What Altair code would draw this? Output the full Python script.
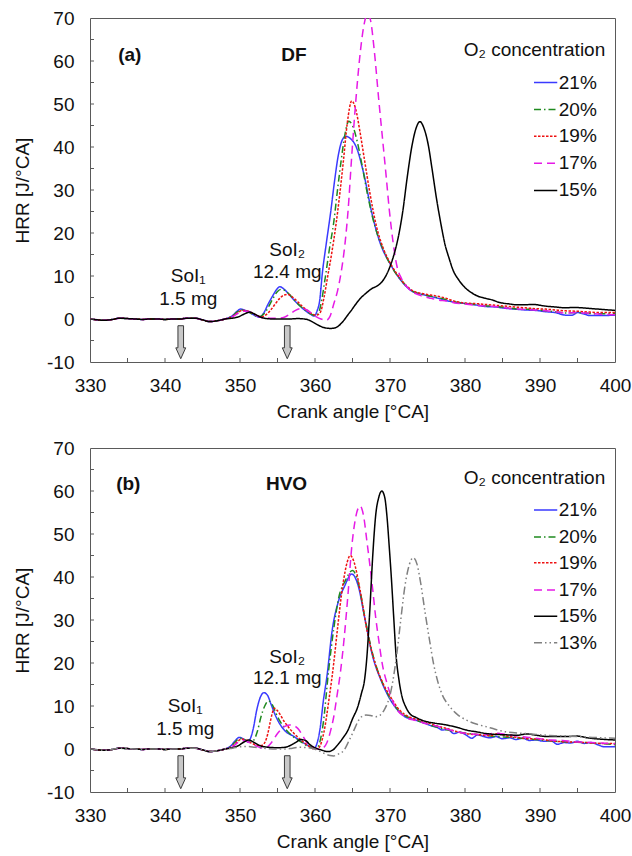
import altair as alt
import pandas as pd

# ---------------- data ----------------
SERIES = ["21%", "20%", "19%", "17%", "15%", "13%"]
COLORS = ["#3a3aff", "#1f8a1f", "#ee1111", "#e61ae6", "#000000", "#808080"]
DASHES = [[1, 0], [7, 3, 1.5, 3], [2.5, 1.5], [8, 5], [1, 0], [8, 3, 1.5, 3, 1.5, 3]]

# motored / pre-ignition baseline (common start of every trace)
BASE_X = [330, 331, 332, 333, 334, 335, 336, 337, 338, 339, 340, 341, 342, 343, 344, 345, 346, 347]
BASE_Y = [0.0, -0.2, -0.3, -0.1, 0.2, 0.1, 0.0, -0.1, 0.0, 0.0, -0.1, 0.0, 0.0, 0.2, 0.2, -0.2, -0.6, -0.4]

# ---- panel (a) DF ----
A21_X = [348, 349, 349.6, 350.1, 350.7, 351.4, 352.0, 352.6, 353.2, 353.7, 354.3, 354.9, 355.3, 355.9, 356.5, 357.2, 357.9, 358.6, 359.3, 359.9, 360.3, 360.6, 361.0, 361.5, 362.1, 362.6, 363.1, 363.6, 364.1, 364.7, 365.5, 366.5, 367.6, 368.7, 370.0, 371.4, 373.0, 374.6, 376, 377.3, 378.5, 380, 381.3, 382.7, 384, 385.3, 386.6, 388, 389.4, 390.7, 392, 393.4, 394.3, 395, 396, 396.6, 398, 400]
A21_Y = [0, 0.8, 1.8, 2.3, 2.0, 1.4, 0.8, 0.4, 1.5, 3.3, 5.2, 6.9, 7.5, 6.9, 5.8, 4.4, 3.2, 2.1, 1.2, 0.7, 2.0, 4.0, 11.0, 17.5, 25.0, 32.0, 38.0, 41.5, 42.5, 42.0, 40.0, 33.8, 24.5, 17.6, 12.9, 9.1, 6.4, 5.6, 5.0, 4.4, 3.9, 3.6, 3.3, 2.9, 2.8, 2.5, 2.3, 2.1, 2.0, 1.7, 1.5, 0.9, 0.9, 1.5, 1.1, 0.8, 0.8, 0.9]

A20_X = [348, 349, 349.7, 350.2, 350.8, 351.4, 352.0, 352.6, 353.2, 353.8, 354.4, 355.0, 355.5, 356.1, 356.7, 357.4, 358.1, 358.8, 359.5, 360.1, 360.5, 360.9, 361.4, 361.9, 362.5, 363.0, 363.5, 364.0, 364.5, 365.0, 365.6, 366.3, 367.0, 368.0, 369.0, 370.0, 371.4, 373, 374.6, 376, 377.3, 378.5, 380, 381.3, 382.7, 384, 385.3, 386.6, 388, 389.4, 390.7, 392, 393.4, 395, 396.6, 398, 400]
A20_Y = [0, 0.7, 1.7, 2.1, 1.9, 1.4, 0.8, 0.5, 1.2, 2.8, 4.8, 6.4, 6.9, 6.5, 5.5, 4.1, 2.9, 1.9, 1.1, 0.8, 1.5, 4.5, 10.0, 16.0, 22.5, 30.0, 37.0, 43.0, 46.0, 45.0, 41.5, 35.5, 29.0, 21.5, 16.5, 12.8, 9.2, 6.5, 5.6, 5.1, 4.6, 4.0, 3.6, 3.4, 3.1, 2.9, 2.7, 2.4, 2.3, 2.2, 1.9, 1.7, 1.4, 1.5, 1.3, 1.2, 1.2]

A19_X = [348, 349, 349.8, 350.3, 350.9, 351.5, 352.2, 352.8, 353.4, 354.1, 354.7, 355.3, 355.9, 356.4, 357.0, 357.7, 358.4, 359.1, 359.7, 360.2, 360.7, 361.2, 361.7, 362.2, 362.8, 363.3, 363.8, 364.3, 364.9, 365.4, 366.0, 366.6, 367.3, 368.2, 369.2, 370.2, 371.4, 373, 374.6, 376, 377.3, 378.5, 380, 381.3, 382.7, 384, 385.3, 386.6, 388, 389.4, 390.7, 392, 393.4, 395, 396.6, 398, 400]
A19_Y = [0, 0.6, 1.6, 2.0, 1.9, 1.5, 0.9, 0.5, 0.9, 2.1, 3.5, 4.8, 5.6, 5.7, 5.1, 4.0, 2.8, 1.8, 1.1, 0.9, 1.5, 5.0, 10.0, 15.0, 22.0, 29.0, 37.0, 45.5, 50.7, 49.0, 43.5, 37.0, 29.5, 21.5, 16.0, 12.5, 9.3, 6.6, 5.8, 5.4, 4.9, 4.2, 3.7, 3.6, 3.4, 3.2, 3.0, 2.8, 2.6, 2.4, 2.3, 2.1, 1.9, 1.8, 1.6, 1.5, 1.5]

A17_X = [348, 349, 349.8, 350.4, 351.0, 351.7, 352.4, 353.0, 354, 355, 355.9, 356.7, 357.4, 358.1, 358.8, 359.5, 360.2, 360.8, 361.5, 362.0, 362.5, 363.0, 363.5, 363.9, 364.4, 364.9, 365.5, 366.1, 366.6, 367.0, 367.4, 367.9, 368.5, 369.0, 369.5, 369.9, 370.4, 370.9, 371.5, 372.2, 373.0, 374.0, 375.5, 376.5, 377.5, 378.5, 380, 381.3, 382.7, 384, 385.3, 386.6, 388, 389.4, 390.7, 392, 393.4, 395, 396.6, 398, 400]
A17_Y = [0, 0.5, 1.4, 1.8, 1.8, 1.3, 0.6, 0.3, 0.2, 0.2, 0.4, 1.2, 2.0, 2.4, 2.2, 1.4, 0.5, 0.0, -0.3, 0.6, 3.5, 6.5, 11.0, 16.0, 25.0, 38.0, 52.0, 63.0, 69.0, 71.0, 69.5, 62.5, 51.0, 42.0, 33.0, 25.5, 18.0, 12.5, 9.5, 7.6, 6.3, 5.5, 4.8, 4.4, 4.2, 3.8, 3.5, 3.2, 3.0, 2.9, 2.6, 2.4, 2.2, 2.1, 1.9, 1.7, 1.4, 1.5, 1.3, 1.1, 1.0]

A15_X = [348, 349, 349.8, 350.5, 351.3, 352.0, 352.8, 353.5, 354.5, 355.5, 356.5, 357.7, 358.6, 359.1, 359.8, 360.4, 361.2, 362.1, 362.6, 363.0, 363.5, 363.9, 364.4, 364.8, 365.5, 366.1, 366.6, 367.0, 367.6, 368.4, 369.0, 369.5, 370.0, 370.5, 371.1, 371.7, 372.3, 372.9, 373.5, 374.0, 374.5, 375.1, 375.6, 376.2, 376.8, 377.3, 377.9, 378.4, 379.2, 380.0, 380.8, 381.6, 382.5, 383.7, 384.5, 385.9, 387, 388, 389, 390.7, 392, 393.4, 394.5, 395.6, 397, 398.5, 400]
A15_Y = [0, 0.2, 0.5, 1.1, 1.6, 1.1, 0.4, 0.1, 0.0, 0.0, 0.0, 0.1, 0.0, -0.2, -0.8, -1.4, -2.0, -2.2, -2.1, -1.8, -1.0, -0.2, 1.0, 1.9, 3.6, 4.9, 5.7, 6.3, 7.1, 7.8, 8.8, 10.2, 12.2, 14.8, 19.0, 25.0, 33.0, 40.0, 44.5, 45.9, 44.5, 40.5, 35.0, 28.0, 22.0, 17.6, 14.0, 11.4, 9.0, 7.3, 6.2, 5.4, 4.9, 4.4, 3.9, 3.5, 3.3, 3.3, 3.4, 3.0, 2.8, 2.6, 2.7, 2.6, 2.4, 2.2, 2.0]

# ---- panel (b) HVO ----
B21_X = [348, 348.7, 349.3, 349.9, 350.5, 351.0, 351.4, 351.8, 352.2, 352.7, 353.2, 353.7, 354.1, 354.8, 355.9, 357.2, 358.6, 359.9, 360.3, 360.7, 361.1, 361.6, 362.3, 363.1, 363.9, 364.9, 365.8, 366.6, 367.7, 368.8, 369.8, 371.2, 372.0, 373.3, 374.6, 375.5, 376.3, 377.0, 377.7, 378.5, 379.3, 380.1, 380.9, 381.7, 382.5, 383.3, 384.1, 385.0, 386.0, 386.8, 387.7, 388.6, 389.5, 390.5, 391.5, 392.3, 393.2, 394.1, 395.0, 395.9, 396.8, 397.7, 398.6, 399.3, 400]
B21_Y = [0, 0.6, 1.8, 2.7, 2.3, 1.7, 2.5, 5.0, 8.8, 12.0, 13.1, 12.4, 10.6, 7.5, 4.4, 2.9, 1.3, 0.2, 1.5, 5.0, 11.0, 17.0, 27.7, 34.2, 37.7, 40.7, 37.7, 30.8, 21.5, 16.0, 12.2, 8.7, 7.5, 6.8, 6.0, 5.4, 5.0, 4.4, 4.6, 3.6, 3.9, 3.3, 2.5, 3.3, 2.9, 2.6, 2.9, 2.4, 2.6, 2.2, 2.5, 2.0, 2.1, 1.8, 1.9, 1.1, 1.5, 1.4, 1.8, 1.3, 1.5, 1.0, 0.5, 0.5, 0.5]

B20_X = [348, 348.8, 349.4, 350.0, 350.6, 351.2, 351.8, 352.3, 352.8, 353.3, 353.8, 354.3, 355.0, 356.0, 356.8, 358.0, 359.4, 360.2, 360.7, 361.1, 361.8, 362.5, 363.2, 364.0, 365.0, 365.8, 366.6, 367.7, 368.8, 369.8, 371.2, 372.3, 374, 376, 378, 380, 382, 384, 386, 388, 390, 392, 394, 396, 398, 400]
B20_Y = [0, 0.6, 1.7, 2.5, 2.2, 1.6, 2.0, 4.0, 7.5, 10.0, 11.2, 10.3, 7.5, 4.8, 3.3, 1.8, 0.4, 0.2, 2.0, 6.0, 18.0, 28.0, 35.5, 39.0, 41.5, 38.5, 31.0, 22.0, 16.2, 12.5, 8.8, 7.5, 6.4, 5.2, 4.3, 3.7, 3.3, 2.9, 2.7, 2.4, 2.1, 1.8, 1.6, 1.5, 1.3, 1.0]

B19_X = [348, 349, 349.6, 350.2, 350.8, 351.5, 352.2, 352.8, 353.3, 353.7, 354.0, 354.3, 354.6, 355.0, 355.9, 357.2, 358.2, 359.0, 359.9, 360.5, 361.2, 361.9, 362.5, 363.0, 363.7, 364.3, 364.7, 365.2, 366.0, 367.0, 368.0, 369.0, 370.0, 371.3, 372.5, 374, 375, 376, 377.5, 379, 380.5, 382, 383.3, 384.5, 385.5, 387, 388.5, 390, 391.5, 393, 394.5, 396, 398, 400]
B19_Y = [0, 0.6, 1.6, 2.3, 2.1, 1.4, 0.9, 0.8, 1.5, 3.5, 6.0, 8.3, 9.5, 8.9, 6.4, 3.6, 2.0, 0.9, 0.0, 0.3, 4.0, 12.0, 20.0, 28.0, 38.0, 43.5, 45.0, 43.5, 37.0, 27.0, 20.0, 15.5, 12.3, 9.0, 7.5, 6.7, 6.2, 5.5, 4.8, 4.0, 3.5, 3.3, 3.1, 3.6, 3.0, 2.7, 2.4, 2.3, 1.9, 1.7, 1.6, 1.5, 1.3, 1.3]

B17_X = [348, 349, 349.7, 350.3, 351.0, 351.8, 352.6, 353.3, 354.2, 355.0, 355.9, 356.6, 357.2, 357.7, 358.4, 359.0, 359.7, 360.4, 361.0, 361.6, 362.1, 362.5, 362.9, 363.4, 363.9, 364.4, 364.9, 365.5, 366.0, 366.5, 366.9, 367.3, 367.7, 368.1, 368.5, 369.0, 369.6, 370.7, 372.0, 373.5, 375, 376.5, 378, 379.5, 381, 382.5, 384, 385.5, 387, 388.5, 390, 391.5, 393, 394.5, 396, 398, 400]
B17_Y = [0, 0.5, 1.5, 2.0, 1.7, 1.0, 0.4, 0.2, 1.5, 3.6, 5.2, 5.6, 5.4, 4.8, 3.0, 1.3, 0.5, 0.0, 0.2, 1.5, 4.4, 7.5, 12.0, 18.0, 26.0, 36.0, 47.0, 54.5, 56.5, 54.0, 48.6, 43.0, 37.0, 30.5, 25.3, 19.5, 15.3, 9.8, 7.5, 6.6, 5.8, 5.2, 4.4, 3.8, 3.5, 3.3, 3.7, 3.4, 3.0, 2.7, 2.4, 2.1, 2.0, 1.7, 1.6, 1.4, 1.2]

B15_X = [348, 349, 349.8, 350.5, 351.2, 351.8, 352.5, 353.3, 355.0, 356.0, 356.8, 357.5, 358.1, 358.7, 359.4, 360.1, 360.8, 361.7, 362.4, 363.0, 363.7, 364.4, 365.0, 365.7, 366.2, 366.6, 366.9, 367.3, 367.7, 368.1, 368.5, 368.9, 369.3, 369.6, 369.9, 370.2, 370.5, 370.8, 371.2, 371.6, 372.1, 372.6, 373.5, 374.8, 376, 377.5, 379, 380.2, 381.5, 382.8, 384, 385.5, 387, 388.2, 389.5, 390.9, 392.3, 393.6, 395, 396.3, 398, 400]
B15_Y = [0, 0.3, 0.8, 1.6, 2.1, 1.6, 0.9, 0.5, 0.3, 0.4, 0.9, 1.6, 2.2, 2.0, 0.9, 0.2, -0.2, -0.6, -0.2, 0.9, 2.5, 4.4, 7.0, 9.8, 13.0, 16.0, 21.0, 32.0, 45.0, 54.5, 58.5, 60.0, 58.5, 54.0, 47.0, 39.3, 30.5, 22.0, 16.0, 12.2, 9.8, 8.3, 7.3, 6.4, 6.0, 5.6, 5.0, 4.4, 4.0, 3.6, 3.4, 3.3, 3.2, 3.5, 3.2, 2.9, 2.9, 2.9, 3.0, 2.6, 2.3, 2.1]

B13_X = [348, 349, 350, 351, 352, 353, 355, 356, 357.0, 358.1, 359.0, 359.9, 360.6, 361.2, 362.0, 362.5, 363.1, 363.9, 364.5, 365.2, 365.7, 366.2, 366.8, 367.4, 368.1, 368.7, 369.2, 369.6, 370.0, 370.4, 370.9, 371.4, 372.0, 372.6, 373.1, 373.6, 374.1, 374.7, 375.3, 375.8, 376.4, 376.9, 378.0, 379, 380.2, 381.5, 382.8, 384, 385.4, 387, 388.2, 390, 392, 393.6, 395, 397, 400]
B13_Y = [0, 0.2, 0.5, 0.6, 0.4, 0.2, 0.0, 0.0, 0.2, 0.4, 0.3, 0.0, -0.5, -1.0, -1.5, -1.6, -1.2, -0.2, 1.8, 4.4, 6.3, 7.5, 7.9, 7.8, 7.5, 7.9, 9.0, 10.4, 12.5, 16.0, 22.0, 29.5, 38.0, 43.0, 44.5, 43.0, 38.5, 31.5, 25.0, 19.9, 15.5, 12.9, 9.8, 8.0, 6.7, 5.8, 5.2, 4.6, 4.0, 3.7, 3.6, 3.3, 3.1, 3.0, 2.9, 2.7, 2.5]

X_LABELS = [330, 340, 350, 360, 370, 380, 390, 400]
Y_LABELS = [-10, 0, 10, 20, 30, 40, 50, 60, 70]
X_MINOR = [335, 340, 345, 350, 355, 360, 365, 370, 375, 380, 385, 390, 395]
Y_MINOR = [-5, 0, 5, 10, 15, 20, 25, 30, 35, 40, 45, 50, 55, 60, 65]

# annotations
A_BOLD = ["(a)", "DF"]
A_BOLD_X = [335.3, 357.2]
A_BOLD_Y = [61.5, 61.5]
A_NOTE = ["SoI\u2081", "1.5 mg", "SoI\u2082", "12.4 mg"]
A_NOTE_X = [343.1, 343.1, 356.3, 356.3]
A_NOTE_Y = [10.1, 4.7, 16.1, 11.0]
A_LEG_Y = [55.0, 48.7, 42.5, 36.2, 29.9]
A_HEAD_Y = 62.5

B_BOLD = ["(b)", "HVO"]
B_BOLD_X = [335.1, 356.2]
B_BOLD_Y = [61.7, 61.7]
B_NOTE = ["SoI\u2081", "1.5 mg", "SoI\u2082", "12.1 mg"]
B_NOTE_X = [342.7, 342.7, 356.3, 356.3]
B_NOTE_Y = [10.1, 4.7, 21.5, 16.4]
B_LEG_Y = [55.6, 49.3, 43.3, 37.0, 30.9, 24.7]
B_HEAD_Y = 63.0

ARROW_X = [342.1, 356.3]
ARROW_Y = [-5.4, -5.4]

# ---------------- chart helpers ----------------
FRAME = "#5a5a5a"
TXT = "#111111"
FONT = "Liberation Sans"
W, H = 525, 344

XS = alt.Scale(domain=[330, 400], nice=False, zero=False)
YS = alt.Scale(domain=[-10, 70], nice=False, zero=False)
XAX = alt.Axis(values=X_LABELS, title="Crank angle [°CA]", labelPadding=14,
               titleY=55, titleBaseline="alphabetic", labelFlush=False,
               labelOverlap=False, labelExpr="'' + datum.value")
YAX = alt.Axis(values=Y_LABELS, title="HRR [J/°CA]", labelPadding=16,
               titleX=-62, titleY=H / 2, titleAngle=270, titleBaseline="alphabetic",
               titleAlign="center", labelFlush=False, labelOverlap=False,
               labelExpr="'' + datum.value")


def ex(f):
    return alt.X(f"{f}:Q", scale=XS, axis=XAX)


def ey(f):
    return alt.Y(f"{f}:Q", scale=YS, axis=YAX)


COL = alt.Color("s:N", scale=alt.Scale(domain=SERIES, range=COLORS), legend=None)
DASH = alt.StrokeDash("s:N", scale=alt.Scale(domain=SERIES, range=DASHES), legend=None)


def series_df(pairs):
    rows = []
    for name, xs, ys in pairs:
        allx = BASE_X + xs
        ally = BASE_Y + ys
        for i, (a, b) in enumerate(zip(allx, ally)):
            rows.append({"s": name, "x": a, "y": b, "i": i})
    return pd.DataFrame(rows)


def panel(pairs, bold, bx, by, notes, nx, ny, leg_y, head_y):
    names = [p[0] for p in pairs]
    df = series_df(pairs)
    lines = alt.Chart(df).mark_line(strokeWidth=1.5, interpolate="monotone", clip=True).encode(
        x=ex("x"), y=ey("y"), color=COL, strokeDash=DASH, order="i:Q")

    xt = alt.Chart(pd.DataFrame({"x": X_MINOR})).mark_rule(color=FRAME, strokeWidth=1).encode(
        x=ex("x"), y=alt.value(H), y2=alt.value(H - 4))
    yt = alt.Chart(pd.DataFrame({"y": Y_MINOR})).mark_rule(color=FRAME, strokeWidth=1).encode(
        y=ey("y"), x=alt.value(0), x2=alt.value(4))

    leg = pd.DataFrame({"s": names, "y": leg_y[:len(names)],
                        "x": [389.2] * len(names), "x2": [392.3] * len(names),
                        "xt": [392.5] * len(names)})
    leg_rules = alt.Chart(leg).mark_rule(strokeWidth=1.5).encode(
        x=ex("x"), x2="x2:Q", y=ey("y"), color=COL, strokeDash=DASH)
    leg_text = alt.Chart(leg).mark_text(align="left", baseline="middle", fontSize=19,
                                        font=FONT, color=TXT).encode(
        x=ex("xt"), y=ey("y"), text="s:N")
    head = alt.Chart(pd.DataFrame({"x": [398.7], "y": [head_y], "t": ["O\u2082 concentration"]})).mark_text(
        align="right", baseline="middle", fontSize=19, font=FONT, color=TXT).encode(
        x=ex("x"), y=ey("y"), text="t:N")

    bold_t = alt.Chart(pd.DataFrame({"x": bx, "y": by, "t": bold})).mark_text(
        align="center", baseline="middle", fontSize=19, fontWeight="bold", font=FONT, color=TXT).encode(
        x=ex("x"), y=ey("y"), text="t:N")
    note_t = alt.Chart(pd.DataFrame({"x": nx, "y": ny, "t": notes})).mark_text(
        align="center", baseline="middle", fontSize=19, font=FONT, color=TXT).encode(
        x=ex("x"), y=ey("y"), text="t:N")

    arrows = alt.Chart(pd.DataFrame({"x": ARROW_X, "y": ARROW_Y})).mark_point(
        shape="M-0.17,-1L0.17,-1L0.17,0.34L0.3,0.34L0,1L-0.3,0.34L-0.17,0.34Z",
        size=1089, filled=True, fill="#c8c8c8", stroke="#3a3a3a", strokeWidth=1, opacity=1).encode(
        x=ex("x"), y=ey("y"))

    return alt.layer(lines, xt, yt, leg_rules, leg_text, head, bold_t, note_t, arrows).properties(
        width=W, height=H)


pa = panel([("21%", A21_X, A21_Y), ("20%", A20_X, A20_Y), ("19%", A19_X, A19_Y),
            ("17%", A17_X, A17_Y), ("15%", A15_X, A15_Y)],
           A_BOLD, A_BOLD_X, A_BOLD_Y, A_NOTE, A_NOTE_X, A_NOTE_Y, A_LEG_Y, A_HEAD_Y)
pb = panel([("21%", B21_X, B21_Y), ("20%", B20_X, B20_Y), ("19%", B19_X, B19_Y),
            ("17%", B17_X, B17_Y), ("15%", B15_X, B15_Y), ("13%", B13_X, B13_Y)],
           B_BOLD, B_BOLD_X, B_BOLD_Y, B_NOTE, B_NOTE_X, B_NOTE_Y, B_LEG_Y, B_HEAD_Y)

chart = alt.vconcat(pa, pb, spacing=86, bounds="flush").properties(
    padding={"left": 12, "top": 8, "right": 0, "bottom": 0},
    background="white",
).configure(font=FONT).configure_view(stroke=FRAME, strokeWidth=1).configure_axis(
    labelFontSize=19, titleFontSize=19, titleFontWeight="normal", labelColor=TXT,
    titleColor=TXT, labelFont=FONT, titleFont=FONT, ticks=False, tickSize=0,
    domain=False, grid=False)

chart.save("out.html", embed_options={"renderer": "svg", "actions": False})
